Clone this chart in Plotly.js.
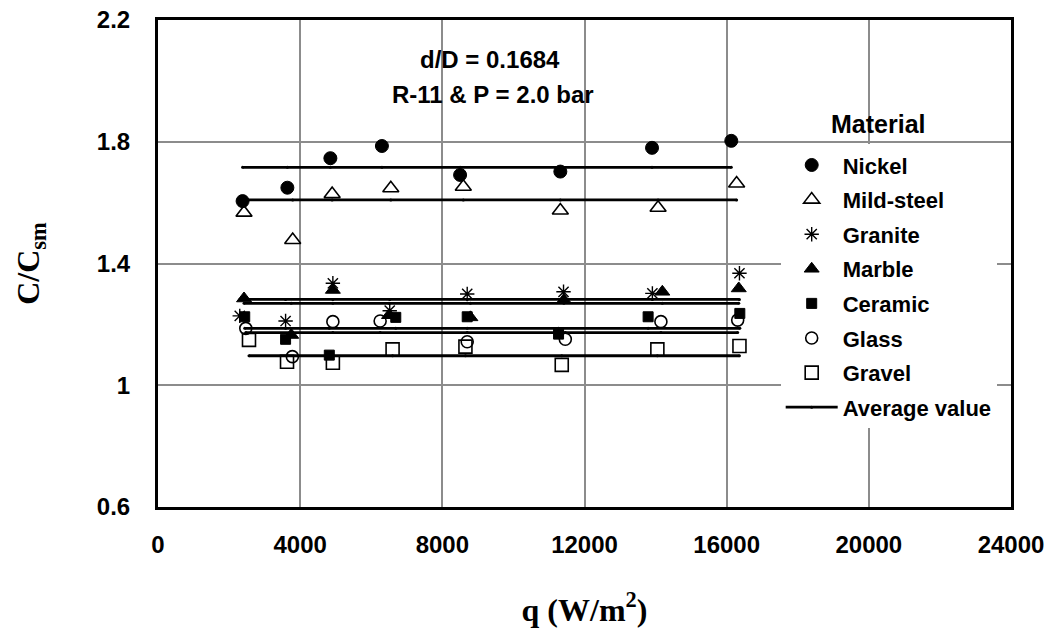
<!DOCTYPE html>
<html>
<head>
<meta charset="utf-8">
<script src="https://cdn.plot.ly/plotly-3.0.1.min.js"></script>
<style>html,body{margin:0;padding:0;background:#fff;}#chart{width:1049px;height:642px;}</style>
</head>
<body>
<div id="chart"></div>
<script>
// Data
const materials = ["Nickel", "Mild-steel", "Granite", "Marble", "Ceramic", "Glass", "Gravel"];

const nickelX = [2380, 3640, 4850, 6300, 8500, 11320, 13900, 16130];
const nickelY = [1.605, 1.649, 1.746, 1.786, 1.691, 1.702, 1.780, 1.803];

const mildSteelX = [2420, 3790, 4900, 6550, 8590, 11320, 14070, 16280];
const mildSteelY = [1.567, 1.477, 1.628, 1.647, 1.652, 1.574, 1.583, 1.663];

const graniteX = [2300, 3590, 4920, 6520, 8700, 11410, 13910, 16360];
const graniteY = [1.228, 1.211, 1.335, 1.245, 1.300, 1.307, 1.302, 1.368];

const marbleX = [2420, 3750, 4920, 6500, 8790, 11420, 14190, 16340];
const marbleY = [1.285, 1.165, 1.313, 1.230, 1.223, 1.280, 1.307, 1.318];

const ceramicX = [2440, 3590, 4820, 6690, 8700, 11270, 13790, 16370];
const ceramicY = [1.225, 1.151, 1.099, 1.223, 1.225, 1.168, 1.225, 1.236];

const glassX = [2470, 3780, 4920, 6250, 8700, 11460, 14150, 16310];
const glassY = [1.187, 1.094, 1.209, 1.211, 1.143, 1.151, 1.209, 1.214];

const gravelX = [2560, 3630, 4920, 6600, 8650, 11360, 14050, 16360];
const gravelY = [1.149, 1.077, 1.074, 1.118, 1.127, 1.067, 1.118, 1.129];

// Average values per material (horizontal lines)
const averageValues = [1.716, 1.609, 1.282, 1.269, 1.187, 1.173, 1.097];

const xTicks = [0, 4000, 8000, 12000, 16000, 20000, 24000];
const yTicks = [0.6, 1.0, 1.4, 1.8, 2.2];

const seriesX = [nickelX, mildSteelX, graniteX, marbleX, ceramicX, glassX, gravelX];
const seriesY = [nickelY, mildSteelY, graniteY, marbleY, ceramicY, glassY, gravelY];

const markerStyles = [
  {symbol: "circle", size: 13, color: "black", line: {color: "black", width: 1}},
  {symbol: "triangle-up-open", size: 14, color: "black", line: {color: "black", width: 1.6}},
  {symbol: "asterisk-open", size: 12, color: "black", line: {color: "black", width: 1.4}},
  {symbol: "triangle-up", size: 13, color: "black", line: {color: "black", width: 1}},
  {symbol: "square", size: 10, color: "black", line: {color: "black", width: 1}},
  {symbol: "circle-open", size: 12, color: "black", line: {color: "black", width: 1.6}},
  {symbol: "square-open", size: 13, color: "black", line: {color: "black", width: 1.6}}
];

const traces = [];
averageValues.forEach((v, i) => {
  const xs = seriesX[i].slice().sort((a, b) => a - b);
  traces.push({
    type: "scatter", mode: "lines+markers",
    x: xs, y: xs.map(() => v),
    name: "Average value",
    legendgroup: "avg", legendrank: 100,
    showlegend: i === 0,
    line: {color: "black", width: 2.8},
    marker: {symbol: "circle", size: 3, color: "black"},
    hoverinfo: "skip"
  });
});
materials.forEach((m, i) => {
  traces.push({
    type: "scatter", mode: "markers",
    x: seriesX[i], y: seriesY[i],
    name: m, legendgroup: m, legendrank: i + 1,
    marker: markerStyles[i]
  });
});

const sans = "Arial, 'Liberation Sans', sans-serif";
const serif = "'Times New Roman', 'Liberation Serif', serif";
const tickFont = {family: sans, size: 24, color: "black", weight: "bold"};
const legendFont = {family: sans, size: 22, color: "black", weight: "bold"};
const titleFont = {family: serif, size: 32, color: "black", weight: "bold"};
const noteFont = {family: sans, size: 24, color: "black", weight: "bold"};

const layout = {
  width: 1049, height: 642,
  margin: {l: 158, r: 38, t: 20, b: 135},
  paper_bgcolor: "white", plot_bgcolor: "white",
  showlegend: true,
  xaxis: {
    range: [0, 24000], tickvals: xTicks, ticktext: xTicks.map(String),
    showgrid: true, gridcolor: "#8c8c8c", gridwidth: 1.5,
    showline: true, linecolor: "black", linewidth: 3, mirror: true,
    zeroline: false, ticks: "", tickfont: tickFont, ticklabelstandoff: 14,
    title: {text: "q (W/m<sup>2</sup>)", font: titleFont, standoff: 42}
  },
  yaxis: {
    range: [0.6, 2.2], tickvals: yTicks, ticktext: yTicks.map(v => String(v)),
    showgrid: true, gridcolor: "#8c8c8c", gridwidth: 1.5,
    showline: true, linecolor: "black", linewidth: 3, mirror: true,
    zeroline: false, ticks: "", tickfont: tickFont, ticklabelstandoff: 20,
    title: {text: "C/C<sub>sm</sub>", font: titleFont, standoff: 48}
  },
  legend: {
    x: 0.730, y: 0.745, xanchor: "left", yanchor: "top",
    bgcolor: "white", borderwidth: 0, itemwidth: 52,
    font: legendFont, tracegroupgap: 3, traceorder: "grouped"
  },
  annotations: [
    {xref: "paper", yref: "paper", x: 0.8435, y: 0.7864, xanchor: "center", yanchor: "middle", text: "Material", showarrow: false,
     font: {family: sans, size: 25, color: "black", weight: "bold"}},
    {xref: "paper", yref: "paper", x: 0.389, y: 0.918, xanchor: "center", yanchor: "middle", text: "d/D = 0.1684", showarrow: false, font: noteFont},
    {xref: "paper", yref: "paper", x: 0.393, y: 0.846, xanchor: "center", yanchor: "middle", text: "R-11 &amp; P = 2.0 bar", showarrow: false, font: noteFont}
  ]
};

Plotly.newPlot("chart", traces, layout, {displayModeBar: false, responsive: false});
</script>
</body>
</html>
